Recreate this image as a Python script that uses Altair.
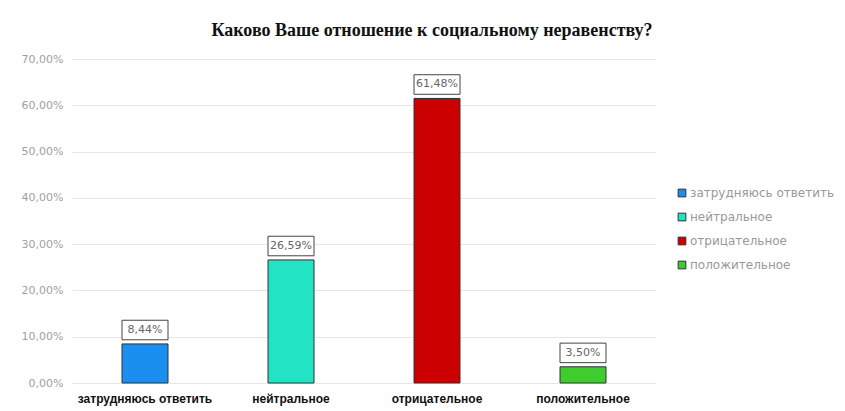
import altair as alt
import pandas as pd

categories = ["затрудняюсь ответить", "нейтральное", "отрицательное", "положительное"]
values = [8.44, 26.59, 61.48, 3.50]
colors = ["#1a8ff0", "#22e3c3", "#cc0000", "#3fcc2e"]
y_ticks = [0, 10, 20, 30, 40, 50, 60, 70]

df = pd.DataFrame({"cat": categories, "val": values})

x_enc = alt.X("cat:N", sort=categories, title=None,
              scale=alt.Scale(paddingInner=0, paddingOuter=0),
              axis=alt.Axis(labelAngle=0, labelFontWeight="bold", labelColor="#111",
                            labelFont="Liberation Sans", labelFontSize=12, labelPadding=10,
                            ticks=False, domain=False, grid=False))
y_scale = alt.Scale(domain=[0, 70])

color_enc = alt.Color("cat:N", sort=categories,
                      scale=alt.Scale(domain=categories, range=colors),
                      legend=alt.Legend(title=None, orient="none", legendX=604, legendY=128,
                                        symbolType="square", symbolSize=60, symbolStrokeColor="#333",
                                        symbolStrokeWidth=1, labelColor="#999", labelFontSize=12,
                                        labelFont="DejaVu Sans", rowPadding=12, labelOffset=2))

bars = alt.Chart(df).mark_bar(width=46, stroke="#333", strokeWidth=1).encode(
    x=x_enc,
    y=alt.Y("val:Q", scale=y_scale, title=None,
            axis=alt.Axis(values=y_ticks, labelExpr="replace(format(datum.value/100, '.2%'), '.', ',')",
                          labelColor="#a0a0a0", labelFontSize=11, labelFont="DejaVu Sans",
                          ticks=False, domain=False, labelPadding=9,
                          gridColor="#e6e6e6", gridWidth=1)),
    color=color_enc,
)

box_path = "M-1,-1.03L1,-1.03L1,-0.18L-1,-0.18Z"
boxes = alt.Chart(df).mark_point(shape=box_path, size=2116, filled=True, fill="white",
                                 stroke="#444", strokeWidth=1, opacity=1).encode(
    x=alt.X("cat:N", sort=categories),
    y=alt.Y("val:Q", scale=y_scale),
)

labels = alt.Chart(df).transform_calculate(
    lab="replace(format(datum.val/100, '.2%'), '.', ',')"
).mark_text(dy=-14, fontSize=11, color="#666", font="DejaVu Sans").encode(
    x=alt.X("cat:N", sort=categories),
    y=alt.Y("val:Q", scale=y_scale),
    text="lab:N",
)

chart = alt.layer(bars, boxes, labels).properties(
    width=584, height=324,
    autosize=alt.AutoSizeParams(type="none"),
    padding={"left": 64, "top": 51, "right": 180, "bottom": 26},
    background="white",
    title=alt.Title("Каково Ваше отношение к социальному  неравенству?",
                    font="Liberation Serif", fontSize=18, fontWeight="bold", color="#111",
                    dx=68, offset=13),
).configure_view(stroke=None)

chart.save("out.html", embed_options={"renderer": "svg", "actions": False})
